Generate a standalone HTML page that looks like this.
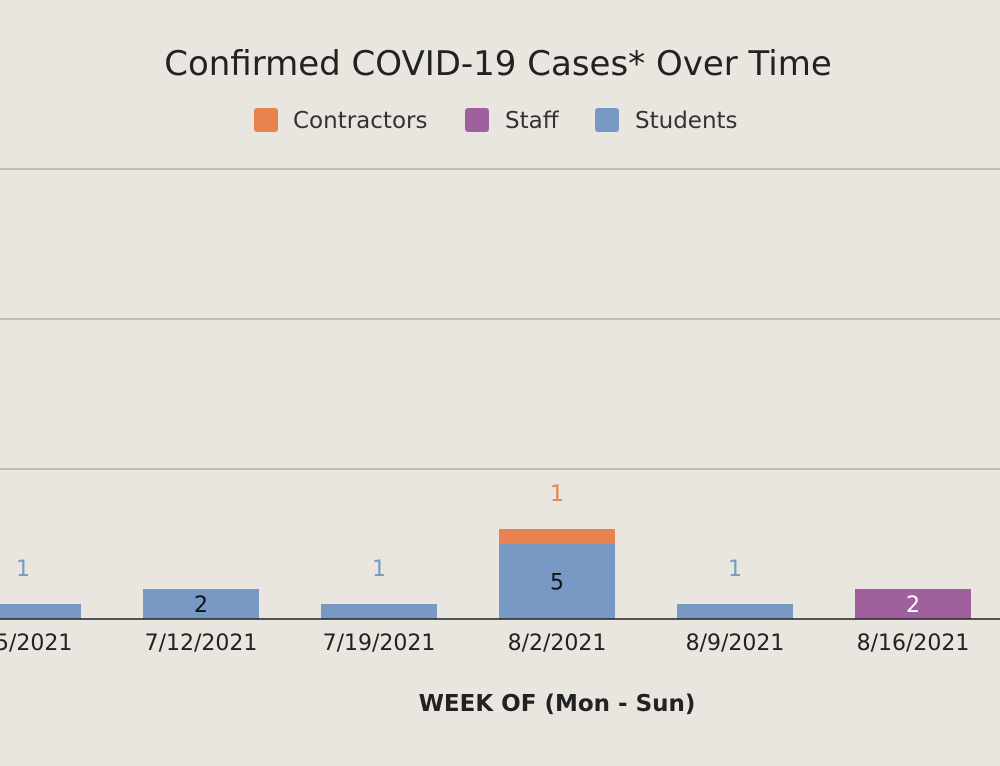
<!DOCTYPE html>
<html><head><meta charset="utf-8"><style>
body{margin:0;background:#e9e6e0;font-family:"DejaVu Sans","Liberation Sans",sans-serif;}
svg{display:block}
</style></head><body>
<svg id="chart" width="1000" height="766">
<text x="498" y="75" font-size="34" fill="#222" text-anchor="middle">Confirmed COVID-19 Cases* Over Time</text>
<g>
<g><rect x="254" y="108" width="24" height="24" rx="3" fill="#e8834f"/><text x="293" y="128" font-size="23" fill="#333">Contractors</text></g>
<g><rect x="465" y="108" width="24" height="24" rx="3" fill="#a0609e"/><text x="505" y="128" font-size="23" fill="#333">Staff</text></g>
<g><rect x="595" y="108" width="24" height="24" rx="3" fill="#7799c4"/><text x="635" y="128" font-size="23" fill="#333">Students</text></g>
</g>
<g id="grid"></g>
<g id="bars"></g>
<g id="xlabels"></g>
<line x1="0" y1="619" x2="1000" y2="619" stroke="#222" stroke-width="1.5"/>
<text x="557" y="711" font-size="23" font-weight="bold" fill="#222" text-anchor="middle">WEEK OF (Mon - Sun)</text>
</svg>
<script>
const categories=["7/5/2021","7/12/2021","7/19/2021","8/2/2021","8/9/2021","8/16/2021"];
const students=[1,2,1,5,1,0];
const staff=[0,0,0,0,0,2];
const contractors=[0,0,0,1,0,0];
const gridTicks=[10,20,30];
const NS="http://www.w3.org/2000/svg";
const base=619,unit=15,x0=23,step=178,bw=116;
const y=v=>base-v*unit;
const xc=i=>x0+i*step;
function mk(tag,attrs,parent){const e=document.createElementNS(NS,tag);for(const k in attrs)e.setAttribute(k,attrs[k]);parent.appendChild(e);return e;}
const grid=document.getElementById('grid'),bars=document.getElementById('bars'),xl=document.getElementById('xlabels');
gridTicks.forEach(t=>{const l=mk('line',{x1:0,x2:1000,y1:y(t),y2:y(t),stroke:'#b0aeaa','stroke-width':1.5},grid);

});
const series=[["students",students,"#7799c4"],["staff",staff,"#a0609e"],["contractors",contractors,"#e8834f"]];
categories.forEach((c,i)=>{
 let acc=0;
 series.forEach(([name,vals,col])=>{
  const v=vals[i];if(!v)return;
  const r=mk('rect',{x:xc(i)-bw/2,y:y(acc+v),width:bw,height:v*unit,fill:col},bars);
  
  
  let ty,fill;
  if(v>1){ty=y(acc+v/2)+8;fill=(name==="students")?"#111":"#fff";}
  else{ty=y(acc+v)-28;fill=col;}
  const t=mk('text',{x:xc(i),y:ty,'font-size':22,fill:fill,'text-anchor':'middle'},bars);
  t.textContent=v;
  
  
  acc+=v;
 });
 const t=mk('text',{x:xc(i),y:650,'font-size':22,fill:'#222','text-anchor':'middle'},xl);
 t.textContent=c;
 
 
});
</script>
</body></html>
